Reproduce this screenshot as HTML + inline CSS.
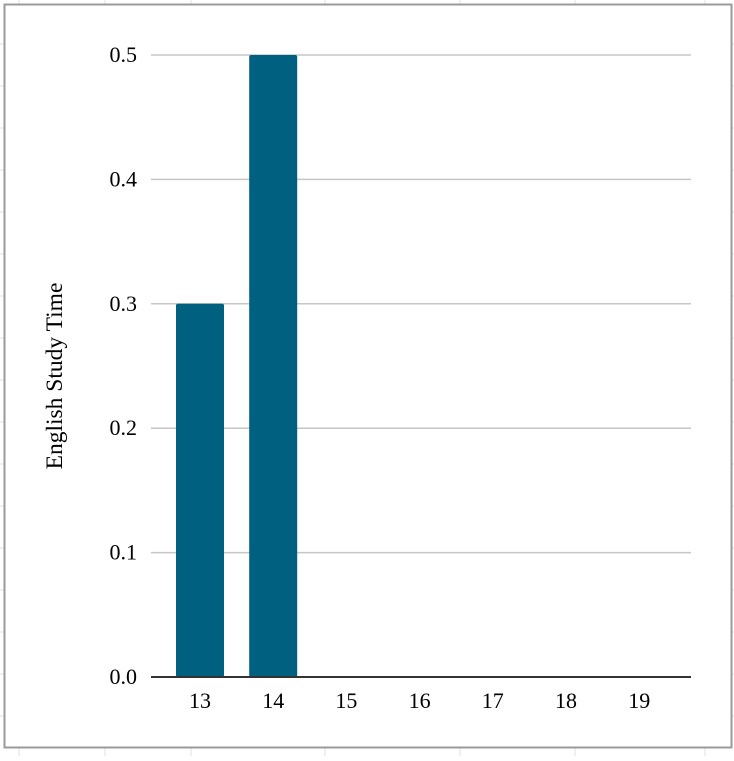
<!DOCTYPE html>
<html><head><meta charset="utf-8"><style>
html,body{margin:0;padding:0;background:#fff;}
body{width:734px;height:756px;position:relative;overflow:hidden;font-family:"Liberation Serif",serif;}
</style></head><body>
<svg width="734" height="756" xmlns="http://www.w3.org/2000/svg">
<g id="sheet" stroke="#e2e2e2" stroke-width="1"></g>
<rect x="4.5" y="4.5" width="727" height="743" fill="#fff" stroke="#9a9a9a" stroke-width="2"/>
<g id="grid"></g>
<g id="bars"></g>
<g id="ylab" font-size="22" text-anchor="end" fill="#000"></g>
<g id="xlab" font-size="22" text-anchor="middle" fill="#000"></g>
<line x1="151" y1="677" x2="691" y2="677" stroke="#333" stroke-width="2"/>
<text x="62" y="376" font-size="23.5" text-anchor="middle" transform="rotate(-90 62 376)">English Study Time</text>
</svg>
<script>
const categories = ["13","14","15","16","17","18","19"];
const values = [0.3,0.5,0,0,0,0,0];
const yTicks = [0,0.1,0.2,0.3,0.4,0.5];
const ns="http://www.w3.org/2000/svg";
function y(v){return 677-v*(677-55)/0.5;}
function xc(i){return 200+i*73.2;}
function mk(t,a,p){const e=document.createElementNS(ns,t);for(const k in a)e.setAttribute(k,a[k]);p.appendChild(e);return e;}
const sheet=document.getElementById('sheet');
[19,105,191,325,460,575,705].forEach(x=>{mk('line',{x1:x,y1:0,x2:x,y2:756},sheet);});
[44,86,128,170,212,254,296,338,380,422,464,506,548,590,632,674,716].forEach(yy=>{mk('line',{x1:0,y1:yy,x2:734,y2:yy},sheet);});
const grid=document.getElementById('grid'),yl=document.getElementById('ylab');
yTicks.forEach(t=>{
  if(t>0){const l=mk('line',{x1:151,y1:y(t),x2:691,y2:y(t),stroke:'#c6c6c6','stroke-width':1.5},grid);
  
  }
  const tx=mk('text',{x:137,y:y(t)+7},yl);tx.textContent=t.toFixed(1);
  
  
});
const bars=document.getElementById('bars'),xl=document.getElementById('xlab');
categories.forEach((c,i)=>{
  if(values[i]>0){const r=mk('rect',{x:xc(i)-24,y:y(values[i]),width:48,height:677-y(values[i]),fill:'#006080',rx:2},bars);
  
  }
  const tx=mk('text',{x:xc(i),y:708},xl);tx.textContent=c;
  
  
});
</script>
</body></html>
